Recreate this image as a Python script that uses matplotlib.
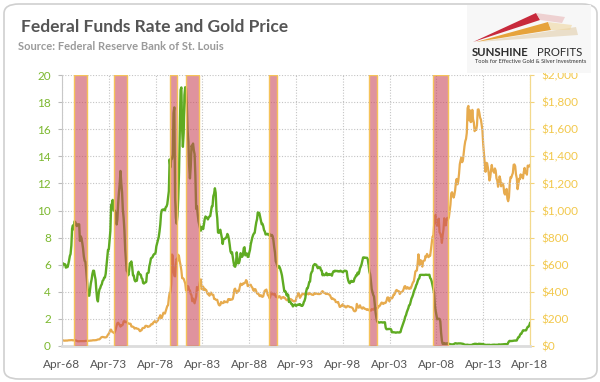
import numpy as np
import pandas as pd
import matplotlib
matplotlib.use("Agg")
import matplotlib.pyplot as plt
import matplotlib.dates as mdates
from matplotlib.ticker import FuncFormatter
from matplotlib.patches import FancyBboxPatch, Polygon, Rectangle

plt.rcParams['font.family'] = ['Lato', 'DejaVu Sans']

# ---------------- data (monthly, Apr-1968 .. Apr-2018) ----------------
start_month = '1968-04-01'

fed_funds_rate = [
    5.76, 6.11, 6.07, 6.02, 6.03, 5.78, 5.91, 5.82, 6.02,
    6.30, 6.64, 6.79, 7.41, 8.67, 8.90, 8.61, 9.19, 9.15, 9.00, 8.85, 8.97,
    8.98, 8.98, 7.76, 8.10, 7.95, 7.61, 7.21, 6.61, 6.29, 6.20, 5.60, 4.90,
    4.14, 3.72, 3.71, 4.16, 4.63, 4.91, 5.31, 5.56, 5.55, 5.20, 4.91, 4.14,
    3.50, 3.29, 3.83, 4.17, 4.27, 4.46, 4.55, 4.80, 4.87, 5.04, 5.06, 5.33,
    5.94, 6.58, 7.09, 7.12, 7.84, 8.49, 10.40, 10.50, 10.78, 10.01, 10.03, 9.95,
    9.65, 8.97, 9.35, 10.51, 11.31, 11.93, 12.92, 12.01, 11.34, 10.06, 9.45, 8.53,
    7.13, 6.24, 5.54, 5.49, 5.22, 5.55, 6.10, 6.14, 6.24, 5.82, 5.22, 5.20,
    4.87, 4.77, 4.84, 4.82, 5.29, 5.48, 5.31, 5.29, 5.25, 5.02, 4.95, 4.65,
    4.61, 4.68, 4.69, 4.73, 5.35, 5.39, 5.42, 5.90, 6.14, 6.47, 6.51, 6.56,
    6.70, 6.78, 6.79, 6.89, 7.36, 7.60, 7.81, 8.04, 8.45, 8.96, 9.76, 10.03,
    10.07, 10.06, 10.09, 10.01, 10.24, 10.29, 10.47, 10.94, 11.43, 13.77, 13.18, 13.78,
    13.82, 14.13, 17.19, 17.61, 10.98, 9.47, 9.03, 9.61, 10.87, 12.81, 15.85, 18.90,
    19.08, 15.93, 14.70, 15.72, 18.52, 19.10, 19.04, 17.82, 15.87, 15.08, 13.31, 12.37,
    13.22, 14.78, 14.68, 14.94, 14.45, 14.15, 12.59, 10.12, 10.31, 9.71, 9.20, 8.95,
    8.68, 8.51, 8.77, 8.80, 8.63, 8.98, 9.37, 9.56, 9.45, 9.48, 9.34, 9.47,
    9.56, 9.59, 9.91, 10.29, 10.32, 11.06, 11.23, 11.64, 11.30, 9.99, 9.43, 8.38,
    8.35, 8.50, 8.58, 8.27, 7.97, 7.53, 7.88, 7.90, 7.92, 7.99, 8.05, 8.27,
    8.14, 7.86, 7.48, 6.99, 6.85, 6.92, 6.56, 6.17, 5.89, 5.85, 6.04, 6.91,
    6.43, 6.10, 6.13, 6.37, 6.85, 6.73, 6.58, 6.73, 7.22, 7.29, 6.69, 6.77,
    6.83, 6.58, 6.58, 6.87, 7.09, 7.51, 7.75, 8.01, 8.19, 8.30, 8.35, 8.76,
    9.12, 9.36, 9.85, 9.84, 9.81, 9.53, 9.24, 8.99, 9.02, 8.84, 8.55, 8.45,
    8.23, 8.24, 8.28, 8.26, 8.18, 8.29, 8.15, 8.13, 8.20, 8.11, 7.81, 7.31,
    6.91, 6.25, 6.12, 5.91, 5.78, 5.90, 5.82, 5.66, 5.45, 5.21, 4.81, 4.43,
    4.03, 4.06, 3.98, 3.73, 3.82, 3.76, 3.25, 3.30, 3.22, 3.10, 3.09, 2.92,
    3.02, 3.03, 3.07, 2.96, 3.00, 3.04, 3.06, 3.03, 3.09, 2.99, 3.02, 2.96,
    3.05, 3.25, 3.34, 3.56, 4.01, 4.25, 4.26, 4.47, 4.73, 4.76, 5.29, 5.45,
    5.53, 5.92, 5.98, 6.05, 6.01, 6.00, 5.85, 5.74, 5.80, 5.76, 5.80, 5.60,
    5.56, 5.22, 5.31, 5.22, 5.24, 5.27, 5.40, 5.22, 5.30, 5.24, 5.31, 5.29,
    5.25, 5.19, 5.39, 5.51, 5.50, 5.56, 5.52, 5.54, 5.54, 5.50, 5.52, 5.50,
    5.56, 5.51, 5.49, 5.45, 5.49, 5.56, 5.54, 5.55, 5.51, 5.07, 4.83, 4.68,
    4.63, 4.76, 4.81, 4.74, 4.74, 4.76, 4.99, 5.07, 5.22, 5.20, 5.42, 5.30,
    5.45, 5.73, 5.85, 6.02, 6.27, 6.53, 6.54, 6.50, 6.52, 6.51, 6.51, 6.40,
    5.98, 5.49, 5.31, 4.80, 4.21, 3.97, 3.77, 3.65, 3.07, 2.49, 2.09, 1.82,
    1.73, 1.74, 1.73, 1.75, 1.75, 1.75, 1.73, 1.74, 1.75, 1.75, 1.34, 1.24,
    1.24, 1.26, 1.25, 1.26, 1.26, 1.22, 1.01, 1.03, 1.01, 1.01, 1.00, 0.98,
    1.00, 1.01, 1.00, 1.00, 1.00, 1.03, 1.26, 1.43, 1.61, 1.76, 1.93, 2.16,
    2.28, 2.50, 2.63, 2.79, 3.00, 3.04, 3.26, 3.50, 3.62, 3.78, 4.00, 4.16,
    4.29, 4.49, 4.59, 4.79, 4.94, 4.99, 5.24, 5.25, 5.25, 5.25, 5.25, 5.24,
    5.25, 5.26, 5.26, 5.25, 5.25, 5.25, 5.26, 5.02, 4.94, 4.76, 4.49, 4.24,
    3.94, 2.98, 2.61, 2.28, 1.98, 2.00, 2.01, 2.00, 1.81, 0.97, 0.39, 0.16,
    0.15, 0.22, 0.18, 0.15, 0.18, 0.21, 0.16, 0.16, 0.15, 0.12, 0.12, 0.12,
    0.11, 0.13, 0.16, 0.20, 0.20, 0.18, 0.18, 0.19, 0.19, 0.19, 0.19, 0.18,
    0.17, 0.16, 0.14, 0.10, 0.09, 0.09, 0.07, 0.10, 0.08, 0.07, 0.08, 0.07,
    0.08, 0.10, 0.13, 0.14, 0.16, 0.16, 0.16, 0.13, 0.14, 0.16, 0.16, 0.16,
    0.14, 0.15, 0.14, 0.15, 0.11, 0.09, 0.09, 0.08, 0.08, 0.09, 0.08, 0.09,
    0.07, 0.07, 0.08, 0.09, 0.09, 0.10, 0.09, 0.09, 0.09, 0.09, 0.09, 0.12,
    0.11, 0.11, 0.11, 0.12, 0.12, 0.13, 0.13, 0.14, 0.14, 0.12, 0.12, 0.24,
    0.34, 0.38, 0.36, 0.37, 0.37, 0.38, 0.39, 0.40, 0.40, 0.40, 0.41, 0.54,
    0.65, 0.66, 0.79, 0.90, 0.91, 1.04, 1.15, 1.16, 1.15, 1.15, 1.16, 1.30,
    1.41, 1.42, 1.51, 1.69,
]

gold_price = [
    37.7, 41.0, 41.1, 39.5, 39.2, 40.9, 39.8, 40.2, 41.9,
    42.3, 42.6, 43.3, 43.4, 43.6, 41.4, 42.1, 41.4, 40.9, 40.4, 37.4, 35.2,
    34.9, 34.9, 35.9, 35.9, 35.5, 35.4, 35.3, 35.4, 36.2, 37.5, 37.4, 37.4,
    37.9, 38.7, 38.9, 39.0, 40.5, 40.1, 41.0, 42.7, 42.0, 42.5, 42.9, 43.5,
    45.8, 48.3, 48.3, 49.0, 54.6, 62.1, 65.7, 67.0, 65.5, 64.9, 62.9, 63.9,
    65.1, 74.2, 84.4, 90.5, 102.0, 120.1, 120.4, 106.8, 103.0, 100.1, 94.8, 106.7,
    129.2, 150.2, 168.4, 172.2, 163.3, 154.1, 143.0, 154.6, 151.8, 158.8, 181.7, 183.9,
    175.8, 179.6, 178.2, 169.9, 167.4, 164.2, 165.2, 163.0, 144.1, 142.7, 142.2, 139.3,
    128.1, 132.3, 132.6, 128.2, 126.9, 125.8, 117.8, 109.0, 114.0, 116.0, 130.6, 133.6,
    132.3, 136.3, 148.3, 149.2, 146.6, 140.8, 143.4, 144.9, 149.0, 158.8, 162.6, 160.5,
    173.1, 178.2, 183.7, 175.4, 176.3, 183.9, 188.8, 206.1, 212.2, 227.3, 206.2, 207.8,
    227.3, 245.7, 242.1, 239.2, 257.6, 279.1, 294.7, 300.8, 355.1, 391.7, 392.5, 455.1,
    675.3, 665.3, 553.6, 517.4, 513.8, 600.7, 644.3, 626.5, 673.6, 661.2, 623.5, 594.9,
    557.4, 500.5, 499.8, 495.8, 479.7, 460.8, 409.3, 411.0, 443.1, 437.8, 413.4, 410.1,
    384.1, 374.1, 330.3, 350.4, 333.9, 314.9, 339.1, 364.4, 435.6, 422.4, 414.4, 447.5,
    481.4, 491.4, 419.8, 432.8, 438.4, 412.9, 422.7, 416.3, 411.8, 393.8, 381.8, 388.0,
    370.9, 386.3, 394.2, 381.4, 377.7, 377.5, 347.5, 348.1, 341.7, 340.3, 341.1, 319.9,
    303.3, 299.1, 304.0, 324.9, 316.6, 316.7, 317.8, 330.7, 323.3, 325.9, 325.4, 322.1,
    345.4, 338.9, 345.7, 340.4, 342.5, 342.7, 348.5, 376.5, 418.2, 423.3, 398.5, 391.3,
    408.3, 401.1, 408.9, 438.4, 460.2, 449.6, 451.1, 461.4, 460.0, 465.6, 467.6, 486.3,
    477.8, 442.1, 443.6, 451.6, 451.5, 451.6, 437.6, 431.4, 413.6, 406.8, 420.2, 418.7,
    404.0, 387.8, 390.2, 384.2, 371.0, 367.6, 375.0, 365.4, 362.6, 367.0, 393.6, 409.3,
    410.1, 416.7, 393.1, 374.3, 369.1, 352.3, 362.5, 394.7, 389.3, 380.7, 381.4, 378.2,
    383.6, 363.8, 363.3, 358.4, 357.4, 366.7, 367.7, 356.4, 348.7, 358.7, 359.6, 361.7,
    354.5, 353.9, 344.3, 338.6, 337.2, 340.8, 353.1, 342.9, 345.4, 344.4, 335.0, 334.8,
    329.0, 329.3, 330.1, 342.2, 367.2, 371.3, 392.0, 379.8, 355.4, 364.2, 373.2, 383.3,
    386.9, 381.9, 384.0, 377.3, 381.4, 385.6, 385.5, 380.5, 391.6, 389.8, 384.4, 379.3,
    378.6, 376.7, 382.1, 391.0, 385.3, 387.6, 386.2, 383.7, 383.1, 383.1, 385.3, 387.4,
    400.0, 405.0, 396.4, 393.0, 391.8, 385.3, 383.5, 387.5, 383.1, 381.1, 377.9, 369.2,
    354.9, 346.6, 351.8, 344.5, 343.8, 340.8, 324.1, 324.0, 322.8, 324.9, 306.0, 288.7,
    289.2, 297.5, 295.9, 308.4, 299.1, 292.3, 292.9, 284.1, 289.0, 295.9, 294.1, 291.7,
    287.1, 287.3, 285.9, 282.6, 276.4, 261.3, 256.2, 256.7, 264.7, 310.7, 293.2, 283.1,
    284.6, 300.4, 286.4, 280.0, 275.3, 285.7, 281.6, 274.5, 273.7, 270.0, 266.0, 271.5,
    265.5, 261.9, 263.0, 260.5, 272.4, 270.2, 267.5, 272.4, 283.4, 283.1, 276.2, 275.9,
    281.7, 295.5, 294.0, 302.7, 314.5, 321.2, 313.3, 310.3, 319.2, 316.6, 319.2, 333.4,
    356.9, 359.0, 340.6, 328.2, 355.7, 356.4, 351.0, 359.8, 378.9, 378.9, 389.9, 407.6,
    413.8, 404.9, 406.7, 403.3, 383.8, 392.4, 398.1, 400.5, 405.3, 420.5, 439.4, 442.1,
    424.0, 423.4, 434.2, 428.9, 421.9, 430.7, 424.5, 437.9, 456.1, 469.9, 476.7, 509.8,
    549.9, 555.0, 557.1, 610.7, 676.5, 596.2, 633.7, 632.6, 598.2, 585.8, 627.8, 629.8,
    631.2, 664.8, 654.9, 679.4, 666.9, 655.5, 665.3, 665.4, 712.7, 754.6, 806.3, 803.2,
    889.6, 922.3, 968.4, 909.7, 888.7, 889.5, 939.8, 839.0, 829.9, 806.6, 760.9, 816.1,
    858.7, 943.0, 924.3, 890.2, 928.6, 945.7, 934.2, 949.4, 996.6, 1043.2, 1127.0, 1134.7,
    1118.0, 1095.4, 1113.3, 1148.7, 1205.4, 1232.9, 1193.0, 1215.8, 1271.0, 1342.0, 1369.9, 1390.6,
    1356.4, 1372.7, 1424.0, 1473.8, 1510.4, 1528.7, 1572.8, 1755.8, 1771.9, 1665.2, 1739.0, 1652.3,
    1656.1, 1742.6, 1673.8, 1650.1, 1585.5, 1596.7, 1594.3, 1630.3, 1744.8, 1746.6, 1721.6, 1684.8,
    1671.9, 1627.6, 1593.1, 1487.9, 1414.0, 1343.4, 1285.5, 1351.7, 1348.6, 1316.6, 1275.9, 1221.5,
    1244.3, 1299.6, 1336.1, 1298.5, 1288.7, 1279.1, 1310.6, 1295.1, 1236.6, 1222.5, 1175.3, 1200.6,
    1251.8, 1227.1, 1178.6, 1198.9, 1198.6, 1181.5, 1128.3, 1117.9, 1124.8, 1159.3, 1086.4, 1068.3,
    1097.9, 1199.5, 1245.1, 1242.3, 1260.9, 1276.4, 1336.7, 1340.2, 1326.6, 1266.6, 1238.4, 1157.4,
    1192.1, 1234.2, 1231.1, 1266.9, 1246.0, 1260.3, 1236.8, 1283.0, 1314.1, 1279.5, 1281.9, 1264.5,
    1331.3, 1330.7, 1324.7, 1334.8,
]

recession_starts = ['1969-08-01', '1973-11-01', '1979-10-01', '1981-07-01',
                    '1990-06-01', '2001-02-01', '2007-12-01']
recession_ends = ['1970-11-15', '1975-03-01', '1980-07-01', '1982-11-15',
                  '1991-04-01', '2001-12-01', '2009-07-01']

x_tick_years = [1968, 1973, 1978, 1983, 1988, 1993, 1998, 2003, 2008, 2013, 2018]
left_ticks = [0, 2, 4, 6, 8, 10, 12, 14, 16, 18, 20]
right_ticks = [0, 200, 400, 600, 800, 1000, 1200, 1400, 1600, 1800, 2000]

title = 'Federal Funds Rate and Gold Price'
subtitle = 'Source: Federal Reserve Bank of St. Louis'

# ---------------- figure ----------------
W, H = 600, 382
fig = plt.figure(figsize=(W / 100, H / 100), dpi=100)
fig.patch.set_facecolor('white')

def fx(x):
    return x / W

def fy(y):
    return 1 - y / H

# card border
card = FancyBboxPatch((fx(4), fy(379)), fx(593), 375 / H,
                      boxstyle='round,pad=0,rounding_size=0.025',
                      transform=fig.transFigure, facecolor='white',
                      edgecolor='#d0d0d0', linewidth=1.2, zorder=0)
fig.patches.append(card)

L, R, T, B = 62, 530, 75, 346
pos = [fx(L), fy(B), fx(R) - fx(L), fy(T) - fy(B)]

# gradient background
bg = fig.add_axes(pos, zorder=0)
grad = np.linspace(0.93, 1.0, 256).reshape(-1, 1)
bg.imshow(np.dstack([grad, grad, grad]), aspect='auto', extent=[0, 1, 0, 1])
bg.set_xlim(0, 1); bg.set_ylim(0, 1)
bg.axis('off')

ax = fig.add_axes(pos, zorder=2)
ax.patch.set_alpha(0)
ax2 = ax.twinx()
ax2.set_zorder(1)
ax2.patch.set_alpha(0)

dates = pd.date_range(start_month, periods=len(fed_funds_rate), freq='MS')

green = '#5fab22'
goldc = '#e7ab4e'

ax2.plot(dates, gold_price, color=goldc, lw=1.6, zorder=2, solid_joinstyle='round')
ax.plot(dates, fed_funds_rate, color=green, lw=1.7, zorder=2, solid_joinstyle='round')

for s, e in zip(recession_starts, recession_ends):
    ax.axvspan(pd.Timestamp(s), pd.Timestamp(e), facecolor='#c94658', alpha=0.58,
               edgecolor='none', zorder=4)
    ax.axvspan(pd.Timestamp(s), pd.Timestamp(e), facecolor='none',
               edgecolor='#f5c35a', lw=1.0, zorder=5)

xmin = pd.Timestamp('1968-04-01')
xmax = pd.Timestamp('2018-04-01')
ax.set_xlim(xmin, xmax)
ax.set_ylim(0, 20)
ax2.set_ylim(0, 2000)

ax.set_xticks([pd.Timestamp(f'{y}-04-01') for y in x_tick_years])
ax.xaxis.set_major_formatter(mdates.DateFormatter('Apr-%y'))
ax.set_yticks(left_ticks)
ax2.set_yticks(right_ticks)
ax2.yaxis.set_major_formatter(FuncFormatter(lambda v, p: f'${v:,.0f}'))

ax.grid(True, color='#c4c4c4', lw=0.8, linestyle=(0, (1, 1.5)), zorder=1)
ax.set_axisbelow(True)

ax.tick_params(axis='x', length=0, pad=9, labelsize=8.5, labelcolor='#555555')
ax.tick_params(axis='y', length=3, width=0.8, color='#bbbbbb', pad=5,
               labelsize=8.5, labelcolor='#7cb82f')
ax2.tick_params(axis='y', length=3, width=0.8, color='#f3d37a', pad=5,
                labelsize=8.5, labelcolor='#f2c84b')

for a in (ax, ax2):
    a.spines['top'].set_visible(False)
ax.spines['left'].set_color('#c8c8c8')
ax.spines['left'].set_linewidth(0.8)
ax.spines['right'].set_visible(False)
ax.spines['bottom'].set_color('#dcdcdc')
ax.spines['bottom'].set_linewidth(2.0)
ax2.spines['left'].set_visible(False)
ax2.spines['bottom'].set_visible(False)
ax2.spines['right'].set_color('#f3d98c')
ax2.spines['right'].set_linewidth(0.9)

# titles
fig.text(fx(21), fy(27), title, fontsize=12.5, fontweight='bold', color='#555555',
         va='center', ha='left')
fig.text(fx(18), fy(47), subtitle, fontsize=8, fontweight='bold', color='#9a9a9a',
         va='center', ha='left')

# logo
fig.patches.append(Rectangle((fx(467), fy(73)), fx(124), 68 / H, transform=fig.transFigure,
                             facecolor='#f7f7f7', edgecolor='none', zorder=1))
streaks = [
    ([(478, 42), (576, 27), (578, 35)], '#e9dcc4', 0.9),
    ([(476, 42), (548, 22), (551, 30)], '#e6a33c', 1.0),
    ([(473, 42), (536, 13), (540, 20)], '#c82a3c', 1.0),
    ([(536, 13), (565, 17), (562, 23), (540, 20)], '#e9b8b8', 0.6),
    ([(548, 22), (572, 25), (570, 30), (551, 30)], '#f0d6a0', 0.6),
]
for pts, col, al in streaks:
    fig.patches.append(Polygon([(fx(a), fy(b)) for a, b in pts], closed=True,
                               transform=fig.transFigure, facecolor=col,
                               edgecolor='none', alpha=al, zorder=2))
fig.text(fx(472), fy(52), 'SUNSHINE', fontsize=8.2, fontweight='bold', color='#2b2b2b',
         va='center', ha='left', zorder=3)
fig.text(fx(537), fy(52), 'PROFITS', fontsize=8.2, color='#2b2b2b',
         va='center', ha='left', zorder=3)
fig.text(fx(475), fy(61.5), 'Tools for Effective Gold & Silver Investments', fontsize=4.1,
         color='#333333', va='center', ha='left', zorder=3)

fig.savefig('out.png', dpi=100)
